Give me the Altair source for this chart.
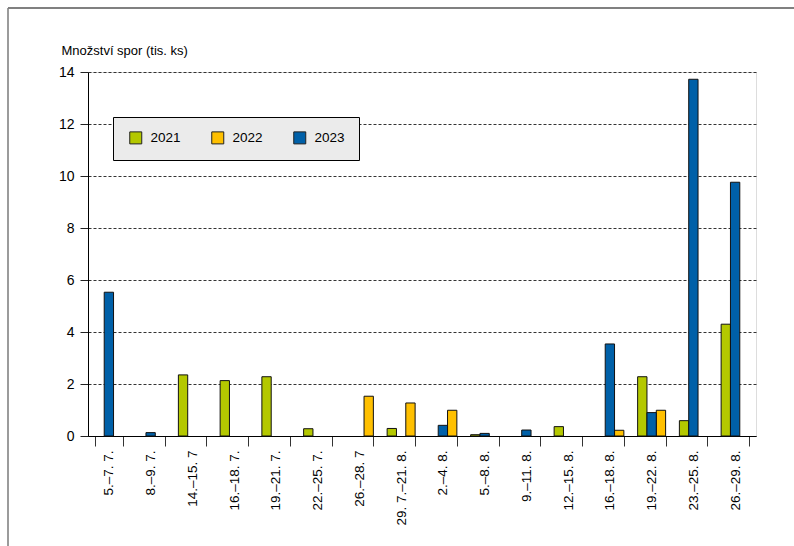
import altair as alt
import pandas as pd

# Collection periods (summer season)
periods = [
    "5.–7. 7.", "8.–9. 7.", "14.–15. 7", "16.–18. 7.", "19.–21. 7.",
    "22.–25. 7.", "26.–28. 7", "29. 7.–21. 8.", "2.–4. 8.", "5.–8. 8.",
    "9.–11. 8.", "12.–15. 8.", "16.–18. 8.", "19.–22. 8.", "23.–25. 8.",
    "26.–29. 8.",
]

# Spore counts (thousands) per season
spores_2021 = [0, 0, 2.35, 2.13, 2.28, 0.28, 0, 0.29, 0, 0.05, 0, 0.36, 0, 2.28, 0.59, 4.3]
spores_2022 = [0, 0, 0, 0, 0, 0, 1.53, 1.27, 0.99, 0, 0, 0, 0.22, 0.99, 0, 0]
spores_2023 = [5.53, 0.13, 0, 0, 0, 0, 0, 0, 0.41, 0.1, 0.23, 0, 3.54, 0.9, 13.72, 9.76]

years = ["2021", "2022", "2023"]
colors = ["#b4c800", "#ffc000", "#0060a8"]
bar_order = ["2021", "2023", "2022"]

rows = []
for yr, vals in zip(years, [spores_2021, spores_2022, spores_2023]):
    for p, v in zip(periods, vals):
        rows.append({"period": p, "year": yr, "value": v})
df = pd.DataFrame(rows)

FONT = "Liberation Sans, Arial, sans-serif"

bars = alt.Chart(df).transform_filter("datum.value > 0").mark_bar(
    stroke="#111111", strokeWidth=1
).encode(
    x=alt.X(
        "period:N",
        sort=periods,
        scale=alt.Scale(domain=periods, paddingInner=0.33, paddingOuter=0.165),
        axis=alt.Axis(
            title=None,
            labelAngle=-90,
            labelAlign="right",
            labelBaseline="middle",
            labelFontSize=13.5,
            labelColor="#000000",
            labelPadding=4,
            tickBand="extent",
            tickSize=10,
            tickColor="#333333",
            domainColor="#000000",
            grid=False,
        ),
    ),
    xOffset=alt.XOffset("year:N", scale=alt.Scale(domain=bar_order, paddingInner=0)),
    y=alt.Y(
        "value:Q",
        scale=alt.Scale(domain=[0, 14], nice=False),
        axis=alt.Axis(
            title="Množství spor (tis. ks)",
            titleAngle=0,
            titleAlign="left",
            titleBaseline="alphabetic",
            titleX=-27,
            titleY=-18,
            titleFontSize=13,
            titleFontWeight="normal",
            titleColor="#000000",
            values=[0, 2, 4, 6, 8, 10, 12, 14],
            labelFontSize=14,
            labelColor="#000000",
            labelPadding=6,
            tickSize=8,
            tickColor="#222222",
            domainColor="#000000",
            grid=True,
            gridColor="#333333",
            gridDash=[3, 2],
            gridWidth=1,
        ),
    ),
    color=alt.Color(
        "year:N",
        scale=alt.Scale(domain=years, range=colors),
        legend=alt.Legend(
            title=None,
            orient="none",
            legendX=25,
            legendY=45,
            direction="horizontal",
            symbolType="square",
            symbolSize=144,
            symbolStrokeColor="#222222",
            symbolStrokeWidth=1,
            symbolOpacity=1,
            labelFontSize=13.5,
            labelColor="#000000",
            labelOffset=8,
            columnPadding=28,
            padding=14,
            symbolOffset=2,
            fillColor="#ebebeb",
            strokeColor="#000000",
        ),
    ),
)

frame_src = pd.DataFrame({"k": [0]})
frame_left = alt.Chart(frame_src).mark_rule(color="#7a7a7a", strokeWidth=1.5).encode(
    x=alt.value(-80), y=alt.value(-64), y2=alt.value(474)
)
frame_top = alt.Chart(frame_src).mark_rule(color="#808080", strokeWidth=2).encode(
    x=alt.value(-80), x2=alt.value(706), y=alt.value(-64)
)

chart = alt.layer(bars, frame_left, frame_top).properties(
    width=668,
    height=364,
    padding={"left": 88, "top": 72, "right": 38, "bottom": 110},
    autosize=alt.AutoSizeParams(type="none"),
    background="#ffffff",
).configure_view(
    fill="#e9e9e9",
    stroke="#8a8a8a",
    strokeWidth=1,
).configure(
    font=FONT,
)

chart.save("out.html", embed_options={"renderer": "svg", "actions": False})
